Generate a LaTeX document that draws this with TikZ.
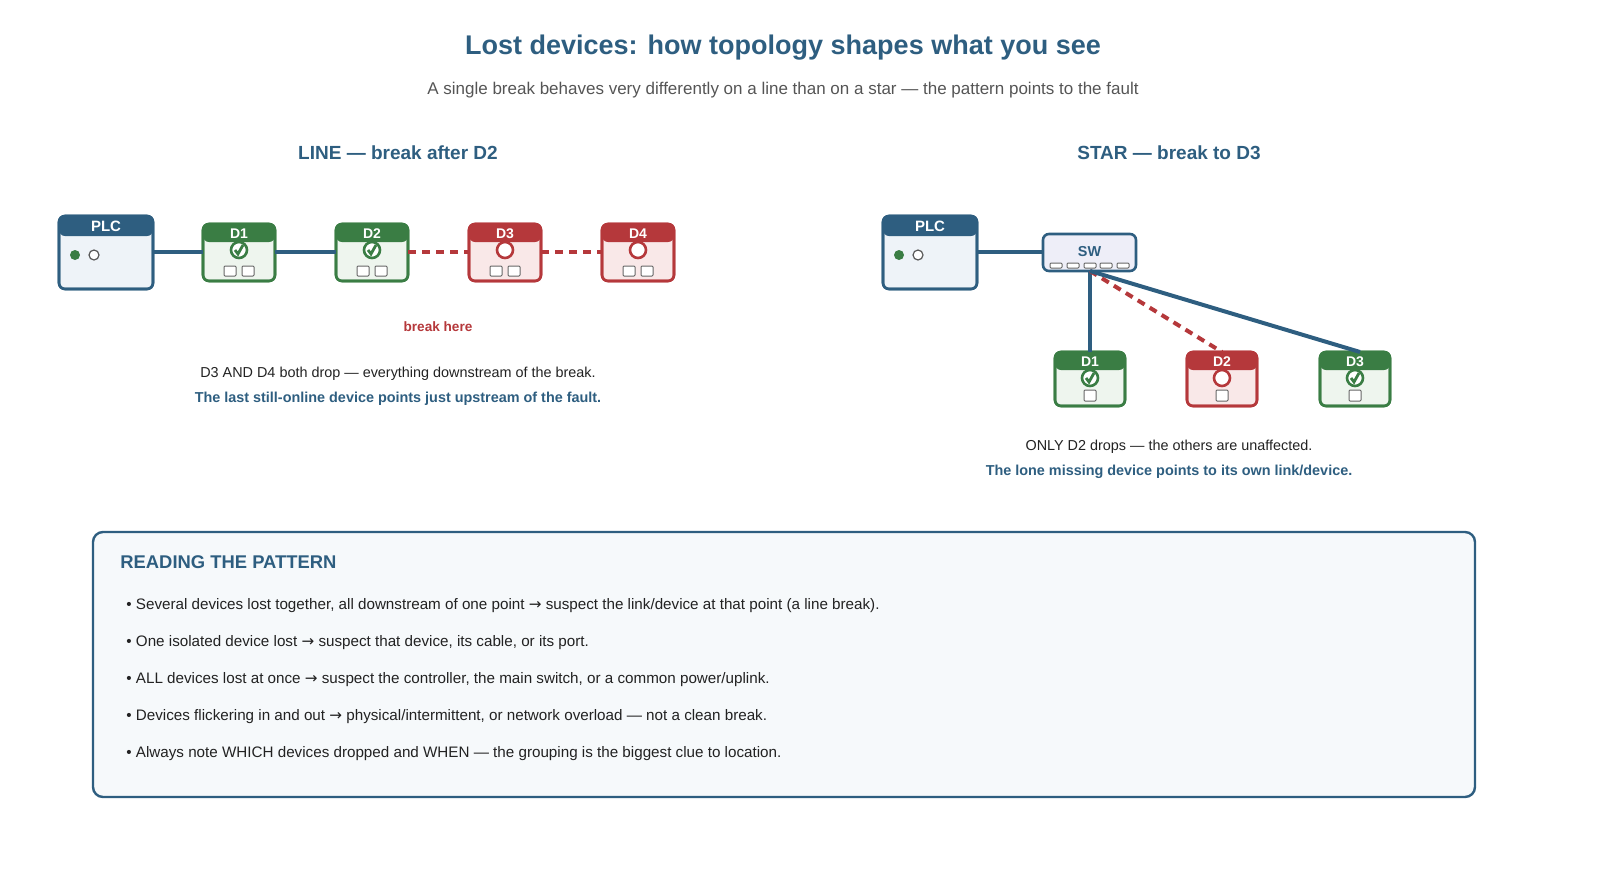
\documentclass[tikz,border=0pt]{standalone}
\usepackage{fontspec}
\usetikzlibrary{calc}
\setmainfont{Liberation Sans}
\newfontfamily\symf{DejaVu Sans}
\newcommand{\arr}{{\symf →}}
\definecolor{blu}{HTML}{2E5E80}
\definecolor{grn}{HTML}{3A7D44}
\definecolor{red}{HTML}{B5383B}
\definecolor{gfill}{HTML}{EEF5EE}
\definecolor{rfill}{HTML}{F9E8E8}
\definecolor{bfill}{HTML}{EEF3F8}
\definecolor{swfill}{HTML}{EEEEF8}
\definecolor{txt}{HTML}{222222}
\definecolor{gry}{HTML}{555555}
\newcommand{\fs}[1]{\fontsize{#1}{#1}\selectfont}
\begin{document}
\begin{tikzpicture}[x=0.5pt,y=-0.5pt,
  lnk/.style={blu,line width=2pt},
  brk/.style={red,line width=2pt,dash pattern=on 4pt off 3pt},
  lbl/.style={inner sep=0pt,font=\bfseries\fs{7}, text=white},
  port/.style={draw=gray!80!black,fill=white,line width=0.5pt,rounded corners=0.5pt}]
\useasboundingbox (0,0) rectangle (1600,868);
% titles
\node[inner sep=0,font=\bfseries\fs{13.5},text=blu] (t) at (783,48) {Lost devices: how topology shapes what you see};
\node[inner sep=0,font=\fs{8.5},text=gry] (st) at (783,90) {A single break behaves very differently on a line than on a star — the pattern points to the fault};
\node[inner sep=0,font=\bfseries\fs{9.5},text=blu] (lt) at (398,153) {LINE — break after D2};
\node[inner sep=0,font=\bfseries\fs{9.5},text=blu] (stt) at (1169,153) {STAR — break to D3};
% macros
\newcommand{\plc}[3]{% name, x left, y top
  \begin{scope}[shift={(#2,#3)}]
  \draw[blu,line width=1.3pt,fill=bfill,rounded corners=3pt] (0,0) rectangle (94,73);
  \fill[blu,rounded corners=3pt] (0,20) -- (0,0) -- (94,0) -- (94,20) -- cycle;
  \draw[blu,line width=1.3pt,rounded corners=3pt] (0,0) rectangle (94,73);
  \node[lbl,font=\bfseries\fs{7.5}] at (47,10) {PLC};
  \fill[grn] (16,39) circle (5);
  \draw[gray!70!black,fill=white,line width=0.6pt] (35,39) circle (5);
  \end{scope}}
\newcommand{\dev}[7]{% name,label,x left,y top,w,h,ok(1/0)
  \begin{scope}[shift={(#3,#4)}]
  \ifnum#7=1 \def\cc{grn}\def\ff{gfill}\else\def\cc{red}\def\ff{rfill}\fi
  \draw[\cc,line width=1.3pt,fill=\ff,rounded corners=3pt] (0,0) rectangle (#5,#6);
  \fill[\cc,rounded corners=3pt] (0,18) -- (0,0) -- (#5,0) -- (#5,18) -- cycle;
  \draw[\cc,line width=1.3pt,rounded corners=3pt] (0,0) rectangle (#5,#6);
  \node[lbl] at (#5/2,10) {#2};
  \ifnum#7=1
    \draw[grn,line width=1.3pt,fill=white] (#5/2,26) circle (8);
    \draw[grn,line width=1.4pt] (#5/2-4,26) -- (#5/2-1,30) -- (#5/2+4,21);
  \else
    \draw[red,line width=1.3pt,fill=white] (#5/2,26) circle (8);
  \fi
  \end{scope}}
% LINE
\plc{lp}{59}{216}
\dev{l1}{D1}{203}{224}{72}{57}{1}
\dev{l2}{D2}{336}{224}{72}{57}{1}
\dev{l3}{D3}{469}{224}{72}{57}{0}
\dev{l4}{D4}{602}{224}{72}{57}{0}
\foreach \x in {203,336,469,602}{
  \draw[port] (\x+21,266) rectangle ++(12,10);
  \draw[port] (\x+39,266) rectangle ++(12,10);}
\coordinate (a0) at (153,252); \coordinate (a1) at (203,252);
\coordinate (a2) at (275,252); \coordinate (a3) at (336,252);
\coordinate (a4) at (408,252); \coordinate (a5) at (469,252);
\coordinate (a6) at (541,252); \coordinate (a7) at (602,252);
\draw[lnk] (a0) -- (a1); \draw[lnk] (a2) -- (a3);
\draw[brk] (a4) -- (a5); \draw[brk] (a6) -- (a7);
\node[inner sep=0,font=\bfseries\fs{6.8},text=red] (bh) at (438,327) {break here};
\node[inner sep=0,font=\fs{7.2},text=txt] (n1) at (398,374) {D3 AND D4 both drop — everything downstream of the break.};
\node[inner sep=0,font=\bfseries\fs{7.2},text=blu] (n2) at (398,399) {The last still-online device points just upstream of the fault.};
% STAR
\plc{sp}{883}{216}
\draw[blu,line width=1.3pt,fill=swfill,rounded corners=3pt] (1043,234) rectangle (1136,271);
\node[inner sep=0,font=\bfseries\fs{7.2},text=blu] (sw) at (1089.5,252) {SW};
\foreach \x in {1056,1073,1090,1106,1123}
  \draw[port] (\x-6,263) rectangle ++(12,5);
\dev{s1}{D1}{1055}{352}{70}{54}{1}
\dev{s2}{D2}{1187}{352}{70}{54}{0}
\dev{s3}{D3}{1320}{352}{70}{54}{1}
\foreach \x in {1055,1187,1320}
  \draw[port] (\x+29,390) rectangle ++(12,11);
\coordinate (b0) at (977,252); \coordinate (b1) at (1043,252);
\coordinate (sb) at (1090,271);
\coordinate (s1t) at (1090,352); \coordinate (s2t) at (1222,352); \coordinate (s3t) at (1360,352);
\draw[lnk] (b0) -- (b1);
\draw[lnk] (sb) -- (s1t);
\draw[brk] (sb) -- (s2t);
\draw[lnk] (sb) -- (s3t);
\node[inner sep=0,font=\fs{7.2},text=txt] (m1) at (1169,447) {ONLY D2 drops — the others are unaffected.};
\node[inner sep=0,font=\bfseries\fs{7.2},text=blu] (m2) at (1169,472) {The lone missing device points to its own link/device.};
% box
\draw[blu,line width=1.2pt,fill=bfill!50,rounded corners=5pt] (93,532) rectangle (1475,797);
\node[inner sep=0,anchor=west,font=\bfseries\fs{9.2},text=blu] (rh) at (120,562) {READING THE PATTERN};
\foreach \y/\t [count=\i] in {606/{• Several devices lost together, all downstream of one point \arr{} suspect the link/device at that point (a line break).},
  643/{• One isolated device lost \arr{} suspect that device, its cable, or its port.},
  680/{• ALL devices lost at once \arr{} suspect the controller, the main switch, or a common power/uplink.},
  717/{• Devices flickering in and out \arr{} physical/intermittent, or network overload — not a clean break.},
  754/{• Always note WHICH devices dropped and WHEN — the grouping is the biggest clue to location.}}
  \node[inner sep=0,anchor=west,font=\fs{7.6},text=txt] (r\i) at (126,\y) {\t};
\end{tikzpicture}
\end{document}
